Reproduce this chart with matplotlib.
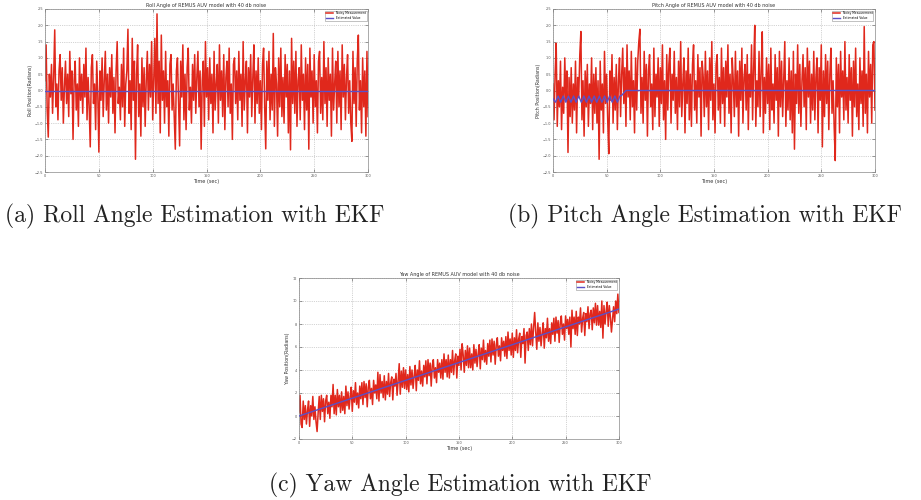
import numpy as np
import matplotlib.pyplot as plt

# time axis (s), one sample per second
t = np.arange(0, 301)

roll_meas = [
    0.3, 1.4, -0.6, -1.43, 0.5, -0.2, 0.8, -0.7, 0.4, 1.86, -0.5, 0.2, -0.9, 0.6, 1.1, -0.3, 0.7, -1.0, 0.1, 0.9,
    -0.4, 0.5, -0.8, 1.2, -0.1, 0.6, -1.5, 0.3, 0.9, -0.6, 0.2, -1.1, 1.0, -0.3, 0.5, -0.7, 0.8, -0.2, 1.3, -0.9,
    0.4, -0.5, -1.73, 0.7, 1.1, -0.4, 0.2, -1.2, 0.9, -0.1, -1.89, 0.6, -0.3, 1.0, -0.8, 0.3, 1.2, -0.6, 0.5, -1.0,
    0.7, -0.2, 1.1, -0.7, 0.4, -1.3, 0.6, 1.5, -0.4, 0.1, -0.9, 0.8, -0.5, 1.3, -1.1, 0.2, 0.6, 1.88, -0.7, 0.3,
    -1.2, 1.6, -0.3, 0.9, -2.11, 0.5, 1.4, -0.8, 0.2, -1.4, 1.0, -0.5, 0.7, -1.1, 0.3, 1.2, -0.6, 0.8, -0.2, 1.5,
    -0.9, 0.4, 1.6, -0.7, 2.35, -0.4, 0.9, -1.3, 1.7, -0.3, 0.6, -1.0, 1.2, -0.5, 0.3, -1.4, 0.8, 1.1, -0.6, 0.2,
    -0.8, -1.8, 0.6, 1.0, -0.4, -1.7, 0.9, -0.2, 1.4, -0.9, 0.5, -1.2, 0.7, 1.3, -0.6, 0.1, -1.0, 0.8, -0.3, 1.1,
    -0.7, 0.4, 1.2, -0.5, 0.6, -1.8, 0.3, 0.9, -1.1, 1.5, -0.2, 0.7, -0.9, 1.0, -0.4, 0.5, -1.3, 1.2, -0.6, 0.2,
    0.8, -1.0, 1.4, -0.3, 0.6, -0.8, 1.1, -1.2, 0.4, 0.9, -0.5, 1.3, -0.7, 0.2, -1.5, 0.8, 1.0, -0.4, 0.6, -0.9,
    1.2, -0.3, 0.5, -1.1, 1.5, -0.6, 0.3, 0.9, -1.3, 0.7, -0.2, 1.1, -0.8, 0.4, 1.4, -1.0, 0.6, -0.4, 1.0, -0.7,
    0.3, -1.2, 0.8, 1.3, -0.5, -1.79, 0.9, -0.3, 1.2, -0.9, 0.5, -0.6, 1.75, -1.1, 0.7, 0.2, -1.4, 1.0, -0.5, 1.3,
    -0.8, 0.4, -1.0, 1.1, -0.2, 0.8, -1.3, 0.6, -1.82, 1.6, -0.4, 0.9, -0.7, 1.2, -1.1, 0.3, 0.7, -0.9, 1.4, -0.3,
    0.5, -1.2, 1.0, -0.6, 0.8, -1.8, 1.3, -0.2, 0.6, -1.0, 1.1, -0.5, 0.3, -1.3, 0.9, 1.2, -0.7, 0.4, -0.9, 1.5,
    -0.4, 0.7, -1.1, 1.0, -0.3, 0.5, -1.4, 1.3, -0.6, 0.2, 0.9, -1.0, 1.2, -0.5, 0.6, -1.2, 1.4, -0.2, 0.8, -0.9,
    0.4, 1.1, -0.7, 0.3, -1.0, -1.56, 1.2, -0.4, 0.7, -1.1, 0.9, 1.7, -0.6, 0.3, -1.3, 1.0, -0.5, 0.6, -1.4, 1.2, -0.8,
]
roll_est_t = [0, 300]
roll_est = [0.0, 0.0]

pitch_meas = [
    0.2, -0.9, 0.5, 1.45, -1.1, 0.3, -0.5, 0.9, -1.2, 0.1, -0.7, 1.0, -0.3, 0.6, -1.9, 0.4, -0.8, 0.7, -1.0, 0.2,
    -0.6, 0.9, -1.3, 0.4, -0.2, 1.1, 1.81, -0.9, 0.3, -1.4, 0.6, -0.5, 0.8, -1.1, 0.2, -0.4, 1.0, -1.2, 0.5, -0.7,
    0.7, -1.0, 0.3, -2.11, 0.9, -0.6, 0.2, -1.3, 1.2, -0.4, 0.5, -0.9, -1.94, 0.6, -0.3, 1.1, -1.0, 0.4, -0.6, 0.8,
    -1.2, 0.3, 1.0, -0.8, 0.5, 1.3, -0.4, 0.7, -1.1, 1.4, -0.2, 0.6, -0.9, 1.2, -0.5, 0.3, -1.3, 1.0, -0.6, 0.9,
    1.5, 1.88, -0.7, 0.4, -1.0, 1.2, -0.3, 0.8, -1.4, 0.6, 1.1, -0.5, 0.2, -1.2, 1.3, -0.8, 0.5, -0.2, 1.0, -1.1,
    0.7, -0.4, 1.4, -0.9, 0.3, -1.5, 1.1, -0.6, 0.8, 1.3, -1.0, 0.5, -0.3, 1.2, -0.7, 0.4, -1.2, 0.9, -0.5, 1.5,
    -0.8, 0.2, 1.0, -1.3, 0.6, -0.4, 1.3, -0.9, 0.5, -1.1, 0.8, 1.4, -0.6, 0.3, -1.0, 1.1, -0.2, 0.7, -1.4, 0.9,
    0.4, -0.8, 1.2, -0.5, 0.6, -1.2, 1.0, -0.3, 1.5, -0.9, 0.2, -1.3, 0.8, 1.1, -0.6, 0.4, -1.0, 1.3, -0.4, 0.7,
    -1.1, 0.9, -0.2, 1.4, -0.7, 0.5, -1.3, 1.0, 0.3, -0.8, 1.2, -0.5, 0.6, -1.4, 0.9, -0.3, 1.3, -1.0, 0.4, 0.8,
    -0.6, 1.1, -1.2, 0.5, -0.2, 1.4, -0.9, 0.7, 2.0, -1.1, 0.3, -0.5, 1.2, -0.8, 0.6, 1.8, -1.3, 0.4, -0.7, 1.0,
    -0.4, 0.8, -1.2, 1.3, -0.6, 0.2, -1.0, 1.1, -0.3, 0.7, -1.4, 1.2, -0.5, 0.9, -0.8, 0.4, 1.5, -1.1, 0.3, -0.6,
    1.0, -0.9, 0.6, -1.3, 1.2, -1.8, 0.5, -0.4, 1.4, -0.7, 0.8, -1.1, 0.3, 1.1, -0.5, 0.7, -1.2, 1.3, -0.2, 0.9,
    -1.0, 0.5, -0.6, 1.2, -0.9, 0.4, 1.0, -1.3, 0.7, -0.3, 1.4, -1.73, 0.6, -0.8, 1.1, -0.4, 0.9, -1.2, 0.5, 1.3,
    -0.7, 0.3, -1.1, -2.15, 1.0, -0.5, 0.8, -1.3, 1.2, -0.2, 0.6, -0.9, 1.5, -0.6, 0.4, -1.0, 1.1, -0.3, 0.7, -1.4,
    0.9, -0.5, 1.3, -0.8, 0.2, -1.2, 1.0, -0.4, 0.6, -1.1, 1.96, -0.7, 0.5, -1.3, 1.2, -0.2, 0.8, -1.0, 1.4, 1.5, -0.6,
]
# estimate oscillates for the first ~63 s, then settles at zero
pitch_est_t = [0, 2.4, 4.8, 7.2, 9.6, 12.0, 14.4, 16.8, 19.2, 21.6, 24.0, 26.4, 28.8, 31.2,
               33.6, 36.0, 38.4, 40.8, 43.2, 45.6, 48.0, 50.4, 52.8, 55.2, 57.6, 60.0, 62.4,
               64.0, 68.0, 300]
pitch_est = [-0.25, -0.36, -0.17, -0.36, -0.17, -0.36, -0.17, -0.36, -0.17, -0.36, -0.17, -0.36, -0.17, -0.36,
             -0.17, -0.36, -0.17, -0.36, -0.17, -0.36, -0.17, -0.36, -0.17, -0.36, -0.17, -0.36, -0.17,
             -0.15, 0.0, 0.0]

yaw_meas = [
    0.3, 1.8, -0.7, -1.0, 1.3, -0.3, 0.9, -0.7, 0.5, 1.3, -0.9, 0.9, 0.0, 1.7, -0.3, 0.8, -0.5, -1.35, 0.3, 1.7,
    -0.3, 1.8, 0.4, 1.5, -0.5, 1.3, 1.8, 0.2, 1.2, -0.2, 1.8, 0.8, 2.74, 0.2, 1.8, 0.1, 2.3, 0.8, 1.8, 0.3,
    2.1, 0.5, 1.7, 0.2, 2.6, 0.9, 2.1, 0.6, 1.7, 2.5, 0.4, 2.2, 1.2, 2.9, 1.0, 2.0, 0.7, 2.6, 1.5, 2.9,
    1.0, 3.0, 1.6, 2.8, 0.8, 2.5, 3.1, 1.5, 2.4, 1.0, 3.1, 2.0, 2.7, 1.5, 3.8, 1.3, 3.6, 2.0, 3.0, 1.6,
    3.5, 1.4, 3.0, 1.9, 3.7, 1.7, 2.9, 3.4, 1.4, 3.2, 2.6, 3.7, 1.8, 3.1, 4.55, 1.9, 3.9, 2.5, 4.2, 2.4,
    4.0, 2.3, 3.6, 2.1, 4.3, 2.7, 4.0, 2.4, 3.5, 4.4, 2.2, 4.0, 3.1, 4.8, 2.8, 3.9, 2.6, 4.4, 3.4, 4.8,
    2.8, 4.9, 3.5, 4.6, 2.6, 4.4, 4.9, 3.3, 4.2, 2.9, 4.9, 3.8, 4.6, 3.3, 4.9, 3.2, 5.4, 3.8, 4.9, 3.4,
    5.3, 3.3, 4.9, 3.8, 5.7, 3.6, 4.8, 5.4, 3.3, 5.2, 4.4, 5.8, 4.0, 6.28, 5.3, 3.8, 5.7, 4.4, 6.1, 4.2,
    5.9, 4.2, 5.4, 4.0, 6.2, 4.6, 5.8, 4.3, 5.4, 6.2, 4.1, 5.9, 4.9, 6.6, 4.7, 5.7, 4.5, 6.3, 5.2, 6.6,
    4.7, 6.7, 5.3, 6.5, 4.5, 6.2, 6.8, 5.2, 6.1, 4.8, 6.8, 5.7, 6.5, 5.2, 6.9, 5.0, 7.3, 5.7, 6.7, 5.3,
    7.2, 5.1, 6.8, 5.7, 7.5, 5.5, 6.7, 7.2, 5.1, 6.9, 6.3, 7.6, 4.6, 7.0, 7.3, 5.7, 7.6, 6.2, 8.0, 6.1,
    7.7, 9.0, 7.3, 5.8, 8.1, 6.5, 7.7, 6.1, 7.2, 8.1, 5.9, 7.6, 6.8, 8.5, 6.5, 7.6, 6.3, 8.1, 7.1, 8.5,
    6.5, 8.6, 7.2, 8.3, 6.4, 8.1, 8.7, 7.1, 8.0, 6.6, 8.7, 7.6, 8.4, 7.1, 8.6, 6.0, 9.2, 7.6, 8.6, 7.1,
    9.1, 7.0, 8.6, 8.0, 9.4, 7.3, 8.5, 9.0, 7.0, 8.9, 8.2, 9.5, 7.6, 8.9, 9.2, 7.5, 9.4, 8.1, 9.8, 7.9,
    9.6, 7.9, 9.1, 7.7, 10.0, 6.77, 9.6, 8.0, 9.1, 9.9, 7.8, 9.6, 8.6, 7.3, 8.4, 9.5, 8.2, 10.0, 8.9, 10.6, 9.0,
]
yaw_est_t = [0, 300]
yaw_est = [0.0, 9.3]

xticks = [0, 50, 100, 150, 200, 250, 300]
captions = ["(a) Roll Angle Estimation with EKF",
            "(b) Pitch Angle Estimation with EKF",
            "(c) Yaw Angle Estimation with EKF"]

RED = '#e0281c'
BLUE = '#5a50c8'


def panel(fig, rect, meas, est_t, est, title, ylabel, ylim, yticks):
    ax = fig.add_axes(rect)
    ax.plot(t, meas, color=RED, lw=1.1, label='Noisy Measurement')
    ax.plot(est_t, est, color=BLUE, lw=1.0, label='Estimated Value', zorder=3)
    ax.set_xlim(0, 300)
    ax.set_ylim(*ylim)
    ax.set_xticks(xticks)
    ax.set_yticks(yticks)
    ax.tick_params(labelsize=2.5, direction='in', length=2, width=0.4, pad=1.5,
                   top=True, right=True, colors='#555555')
    ax.grid(True, ls=':', lw=0.5, color='#aaaaaa')
    for s in ax.spines.values():
        s.set_linewidth(0.5)
        s.set_color('#888888')
    ax.set_title(title, fontsize=3.5, pad=1.5, color='#333333')
    ax.set_xlabel('Time (sec)', fontsize=3.6, labelpad=1, color='#333333')
    ax.set_ylabel(ylabel, fontsize=3.4, labelpad=1, color='#333333')
    leg = ax.legend(loc='upper right', fontsize=2.2, frameon=True, fancybox=False,
                    handlelength=2.5, borderpad=0.3, labelspacing=0.25)
    leg.get_frame().set_linewidth(0.4)
    leg.get_frame().set_edgecolor('#777777')
    leg.set_zorder(5)
    return ax


fig = plt.figure(figsize=(9.21, 5), dpi=100)

ab_ticks = [-2.5, -2, -1.5, -1, -0.5, 0, 0.5, 1, 1.5, 2, 2.5]
panel(fig, [0.0489, 0.656, 0.3507, 0.326], roll_meas, roll_est_t, roll_est,
      'Roll Angle of REMUS AUV model with 40 db noise', 'Roll Position(Radians)',
      (-2.5, 2.5), ab_ticks)
panel(fig, [0.6004, 0.656, 0.3496, 0.326], pitch_meas, pitch_est_t, pitch_est,
      'Pitch Angle of REMUS AUV model with 40 db noise', 'Pitch Position(Radians)',
      (-2.5, 2.5), ab_ticks)
panel(fig, [0.3246, 0.122, 0.3474, 0.322], yaw_meas, yaw_est_t, yaw_est,
      'Yaw Angle of REMUS AUV model with 40 db noise', 'Yaw Position(Radians)',
      (-2, 12), [-2, 0, 2, 4, 6, 8, 10, 12])

cap_font = dict(family='cmr10', fontsize=17, color='#222222', ha='center', va='center')
fig.text(195 / 921, 1 - 216 / 500, captions[0], **cap_font)
fig.text(705 / 921, 1 - 216 / 500, captions[1], **cap_font)
fig.text(460 / 921, 1 - 485 / 500, captions[2], **cap_font)

fig.savefig('out.png', dpi=100)
